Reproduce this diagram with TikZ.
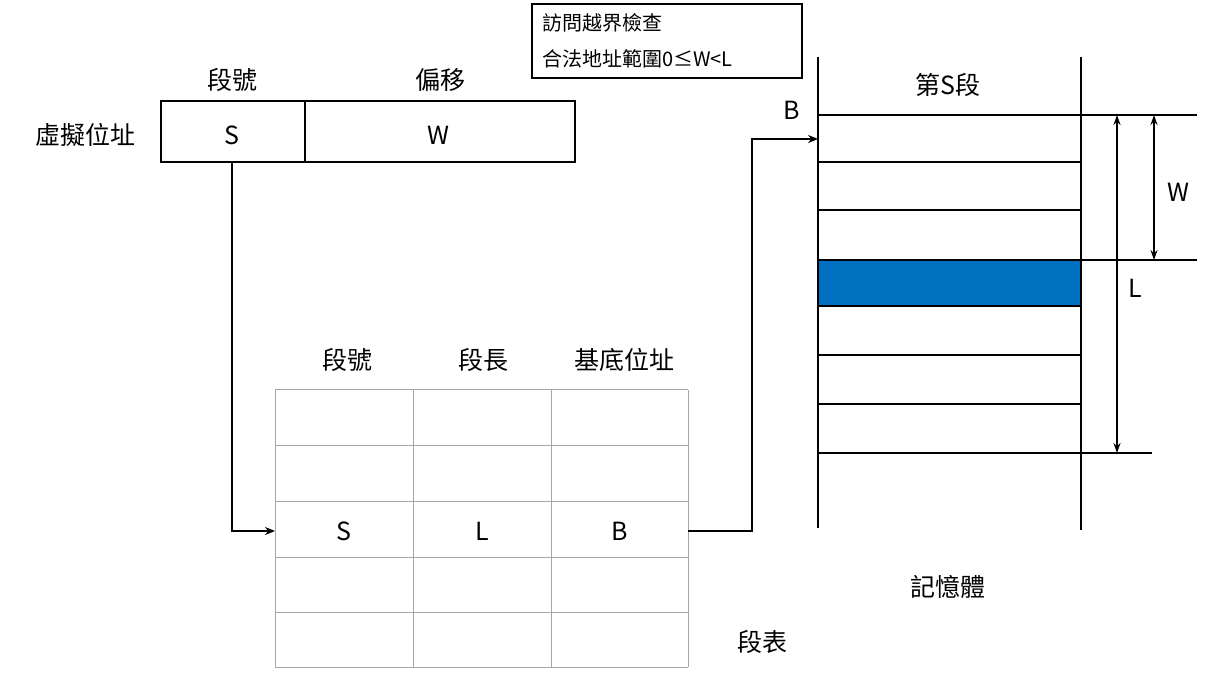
\documentclass[tikz,border=0pt]{standalone}
\usepackage{fontspec}
\setmainfont{Noto Sans CJK TC}
\usetikzlibrary{arrows.meta}
\begin{document}
\begin{tikzpicture}[x=1pt,y=-1pt,
  lbl/.style={font=\fontsize{25}{28}\selectfont, inner sep=0},
  thick2/.style={line width=2.2pt},
  grid/.style={line width=1pt, draw=gray!70},
  arr/.style={line width=2.2pt,-{Stealth[length=10pt,width=8pt]}},
  darr/.style={line width=1.6pt,{Stealth[length=10pt,width=7pt]}-{Stealth[length=10pt,width=7pt]}}]
\useasboundingbox (0,0) rectangle (1208,684);
% virtual address
\draw[thick2] (161,101) rectangle (575,162);
\draw[thick2] (305,101) -- (305,162);
\node[lbl] (vs) at (232,135) {S};
\node[lbl] (vw) at (438,135) {W};
\node[lbl] at (232,80) {段號};
\node[lbl] at (440,80) {偏移};
\node[lbl] at (85,135) {虛擬位址};
% check box
\draw[line width=2pt] (532,4) rectangle (802,78);
\node[font=\fontsize{20}{23}\selectfont, inner sep=0, anchor=west] at (542,23) {訪問越界檢查};
\node[font=\fontsize{20}{23}\selectfont, inner sep=0, anchor=west] at (542,59) {合法地址範圍0≤W<L};
% segment table
\foreach \x in {275,413,551,688} \draw[grid] (\x,390) -- (\x,667);
\foreach \y in {390,446,501,557,612,667} \draw[grid] (275,\y) -- (688,\y);
\node[lbl] at (347,360) {段號};
\node[lbl] at (483,360) {段長};
\node[lbl] at (624,360) {基底位址};
\node[lbl] (ts) at (344,531) {S};
\node[lbl] (tl) at (482,531) {L};
\node[lbl] (tb) at (620,531) {B};
\node[lbl] at (762,642) {段表};
\coordinate (tin) at (275,531);
\coordinate (tout) at (688,531);
% memory
\fill[fill={rgb,255:red,0;green,112;blue,192}] (818,260) rectangle (1081,306);
\draw[thick2] (818,57) -- (818,528);
\draw[thick2] (1081,57) -- (1081,530);
\draw[thick2] (818,115) -- (1197,115);
\draw[thick2] (818,260) -- (1197,260);
\foreach \y in {162,210,306,355,404} \draw[thick2] (818,\y) -- (1081,\y);
\draw[thick2] (818,453) -- (1152,453);
\coordinate (mb) at (818,139);
\node[lbl] at (792,110) {B};
\node[lbl] at (948,85) {第S段};
\node[lbl] at (948,587) {記憶體};
\draw[darr] (1154,115) -- (1154,260);
\node[lbl] at (1178,192) {W};
\draw[darr] (1117,115) -- (1117,453);
\node[lbl] at (1135,288) {L};
% connectors
\draw[arr] (vs.south |- 0,162) -- (232,531) -- (tin);
\draw[arr] (tout) -- (752,531) -- (752,139) -- (mb);
\end{tikzpicture}
\end{document}
